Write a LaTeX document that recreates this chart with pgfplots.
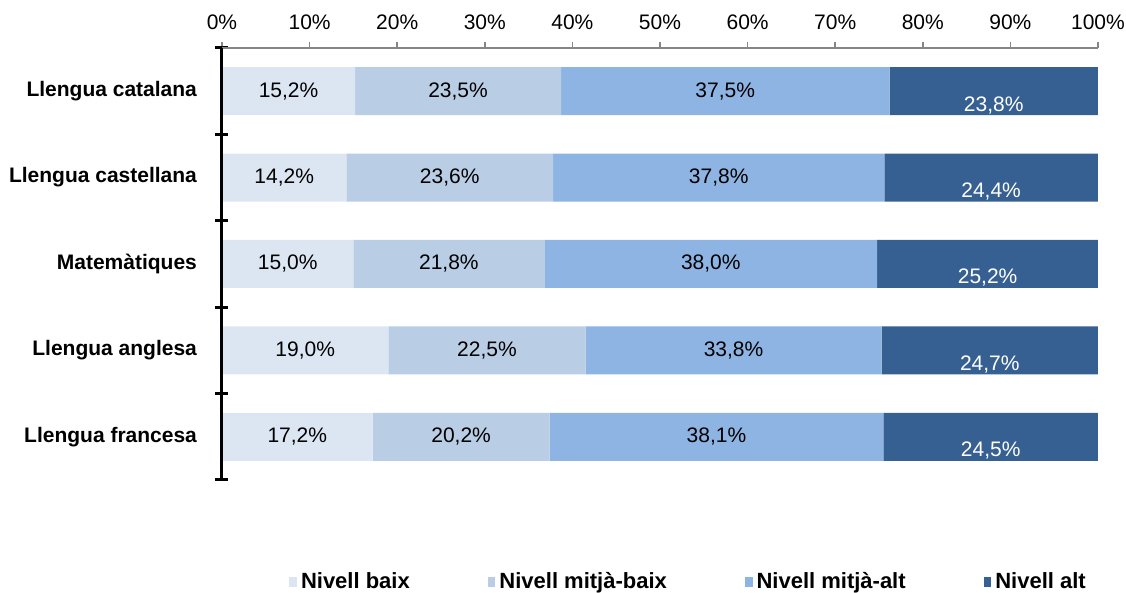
\documentclass[border=0pt]{standalone}
\usepackage{pgfplots}
\pgfplotsset{compat=1.18}
\usepackage{pgfplotstable}
\usepackage{fontspec}
\setmainfont{Liberation Sans}
\definecolor{cbaix}{RGB}{220,230,242}
\definecolor{cmbaix}{RGB}{185,205,229}
\definecolor{cmalt}{RGB}{142,180,227}
\definecolor{calt}{RGB}{55,96,146}
\definecolor{axgray}{RGB}{134,134,134}

% y: 4 = Llengua catalana ... 0 = Llengua francesa
\pgfplotstableread{
y baix mbaix malt alt
4 15.2 23.5 37.5 23.8
3 14.2 23.6 37.8 24.4
2 15.0 21.8 38.0 25.2
1 19.0 22.5 33.8 24.7
0 17.2 20.2 38.1 24.5
}\dades

\begin{document}
\begin{tikzpicture}[x=1pt,y=1pt]
\useasboundingbox (-111,-56.5) rectangle (452,240);
\begin{axis}[
    at={(0,0)}, anchor=south west,
    scale only axis,
    width=438pt, height=216pt,
    xbar stacked,
    bar width=24pt,
    xmin=0, xmax=100,
    ymin=-0.5, ymax=4.5,
    axis on top,
    axis x line*=top,
    axis y line*=left,
    x axis line style={axgray, line width=0.75pt},
    y axis line style={black, line width=1.5pt},
    xtick={0,10,...,100},
    xticklabel={\pgfmathprintnumber{\tick}\%},
    xtick style={axgray, line width=0.75pt, yshift=1.5pt},
    major tick length=3pt,
    tick align=center,
    xticklabel style={yshift=4pt},
    ytick={0,...,4},
    yticklabels={Llengua francesa, Llengua anglesa, Matemàtiques, Llengua castellana, Llengua catalana},
    every major y tick/.style={draw=none},
    yticklabel style={font=\fontsize{10.5}{12}\selectfont\bfseries, xshift=-7.5pt},
    minor ytick={-0.5,0.5,...,4.5},
    minor tick length=6.5pt,
    every minor y tick/.style={black, line width=1.5pt},
    tick label style={font=\fontsize{10.5}{12}\selectfont},
    /pgf/number format/assume math mode=true,
    point meta=explicit,
    nodes near coords={\pgfmathprintnumber[fixed,fixed zerofill,precision=1,use comma]{\pgfplotspointmeta}\%},
    every node near coord/.append style={font=\fontsize{10.5}{12}\selectfont, black},
    legend style={at={(0.0765,-0.236)}, anchor=west, draw=none, inner sep=0pt,
        legend columns=4, font=\fontsize{11}{13}\selectfont\bfseries,
        /tikz/every even column/.append style={column sep=37pt}},
    legend image code/.code={\fill[#1] (0pt,-2.5pt) rectangle (3.8pt,2.5pt);},
]
\addplot[fill=cbaix, draw=none] table[x=baix, y=y, meta=baix] {\dades};
\addplot[fill=cmbaix, draw=none] table[x=mbaix, y=y, meta=mbaix] {\dades};
\addplot[fill=cmalt, draw=none] table[x=malt, y=y, meta=malt] {\dades};
\addplot[fill=calt, draw=none, every node near coord/.append style={white, yshift=-7pt}] table[x=alt, y=y, meta=alt] {\dades};
\legend{Nivell baix, Nivell mitjà-baix, Nivell mitjà-alt, Nivell alt}
\end{axis}
\end{tikzpicture}
\end{document}
